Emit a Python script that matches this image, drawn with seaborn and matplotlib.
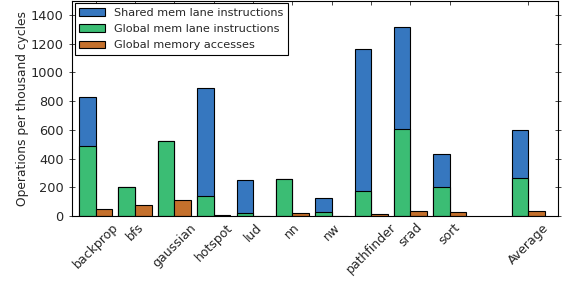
import numpy as np
import matplotlib
matplotlib.use('Agg')
import matplotlib.pyplot as plt
import seaborn as sns

benchmarks = ['backprop', 'bfs', 'gaussian', 'hotspot', 'lud', 'nn', 'nw',
              'pathfinder', 'srad', 'sort', 'Average']
slots      = [0, 1, 2, 3, 4, 5, 6, 7, 8, 9, 11]
global_ln  = [490, 205, 520, 140, 22, 255, 25, 178, 606, 202, 263]
shared_ln  = [342, 0, 0, 750, 230, 0, 100, 987, 711, 228, 337]
global_acc = [47, 77, 112, 8, 2, 23, 3, 12, 37, 30, 35]

BLUE  = '#3677bf'
GREEN = '#3bbd74'
BROWN = '#c4702c'
W = 0.42

sns.set_style('ticks')
plt.rcParams['font.family'] = ['DejaVu Sans']

fig, ax = plt.subplots(figsize=(5.63, 2.81), dpi=100)
fig.subplots_adjust(left=0.128, right=0.991, bottom=0.231, top=0.998)

pos = np.array(slots, dtype=float)
total = np.array(global_ln) + np.array(shared_ln)
bar_kw = dict(native_scale=True, orient='x', width=W, saturation=1,
              edgecolor='black', linewidth=0.8, errorbar=None, ax=ax)

sns.barplot(x=pos - W / 2, y=total, color=BLUE,
            label='Shared mem lane instructions', **bar_kw)
sns.barplot(x=pos - W / 2, y=global_ln, color=GREEN,
            label='Global mem lane instructions', **bar_kw)
sns.barplot(x=pos + W / 2, y=global_acc, color=BROWN,
            label='Global memory accesses', **bar_kw)

ax.set_xlim(-0.6, 11.75)
ax.set_ylim(0, 1500)
ax.set_xticks(slots)
ax.set_xticklabels(benchmarks, rotation=45, fontsize=9)
ax.set_yticks(range(0, 1401, 200))
ax.tick_params(axis='y', labelsize=9.3)
ax.tick_params(top=True, right=True, direction='in', length=3, width=0.6)
ax.tick_params(axis='y', which='major', left=True, direction='inout', length=5)
ax.set_ylabel('Operations per thousand cycles', fontsize=8.8, labelpad=1)
ax.set_xlabel('')
for s in ax.spines.values():
    s.set_linewidth(0.8)
    s.set_color('black')

leg = ax.legend(loc='upper left', fontsize=8.1, fancybox=False,
                edgecolor='black', framealpha=1, borderaxespad=0.25,
                handlelength=2.3, handleheight=0.65, labelspacing=0.55,
                borderpad=0.4)
leg.get_frame().set_linewidth(0.8)

plt.savefig('out.png', dpi=100)
plt.close()
